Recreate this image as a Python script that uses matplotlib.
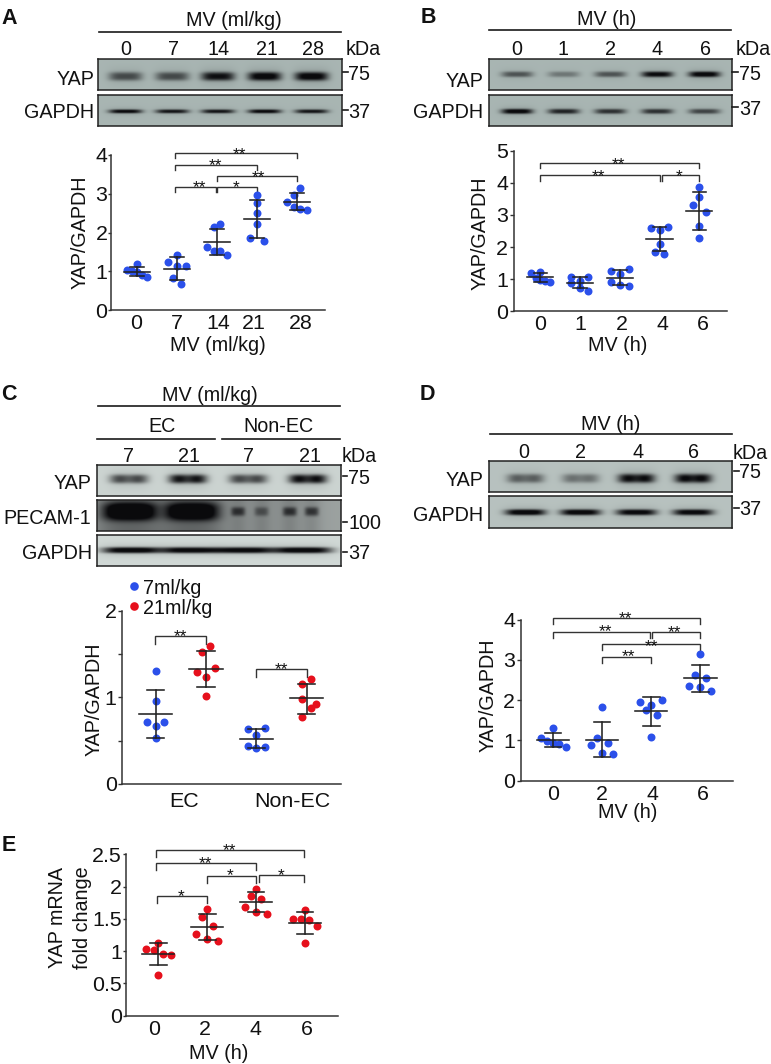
import numpy as np
import matplotlib
matplotlib.use("Agg")
import matplotlib.pyplot as plt

plt.rcParams['font.family'] = ['Liberation Sans', 'DejaVu Sans']
W, H = 771, 1064
BLUE = '#2B50EA'
RED = '#E6101C'
INK = '#222222'
FS = 14.2

# ---------- data ----------
a_cats = ['0', '7', '14', '21', '28']
a_vals = [[1.03, 1.01, 1.18, 0.98, 0.90, 0.85],
          [1.24, 1.41, 1.14, 1.14, 0.83, 0.66],
          [2.14, 2.23, 1.63, 1.53, 1.53, 1.43],
          [2.97, 2.77, 2.50, 2.21, 1.87, 1.79],
          [3.16, 2.97, 2.79, 2.66, 2.60, 2.59]]
a_mean = [0.99, 1.07, 1.75, 2.35, 2.80]
a_low = [0.87, 0.78, 1.41, 1.87, 2.58]
a_high = [1.11, 1.36, 2.09, 2.83, 3.03]

b_cats = ['0', '1', '2', '4', '6']
b_vals = [[1.18, 1.23, 1.05, 0.98, 0.95, 0.91],
          [1.06, 0.95, 1.08, 0.87, 0.71, 0.64],
          [1.27, 1.32, 1.16, 0.92, 0.83, 0.80],
          [2.59, 2.53, 2.63, 2.10, 1.85, 1.77],
          [3.86, 3.57, 3.31, 3.10, 2.66, 2.28]]
b_mean = [1.06, 0.89, 1.05, 2.25, 3.13]
b_low = [0.91, 0.71, 0.82, 1.87, 2.54]
b_high = [1.18, 1.08, 1.28, 2.63, 3.70]

c_groups = ['EC', 'Non-EC']
c_vals = [[1.31, 0.96, 0.71, 0.71, 0.67, 0.53],
          [1.60, 1.52, 1.29, 1.34, 1.23, 1.01],
          [0.63, 0.64, 0.56, 0.44, 0.43, 0.41],
          [1.21, 1.15, 0.98, 0.92, 0.88, 0.77]]
c_mean = [0.81, 1.33, 0.52, 0.99]
c_low = [0.53, 1.12, 0.41, 0.81]
c_high = [1.09, 1.54, 0.63, 1.16]

d_cats = ['0', '2', '4', '6']
d_vals = [[1.31, 1.06, 0.99, 0.94, 0.92, 0.84],
          [1.84, 1.07, 0.94, 0.88, 0.70, 0.67],
          [1.96, 2.00, 1.88, 1.76, 1.63, 1.08],
          [3.14, 2.62, 2.56, 2.35, 2.32, 2.24]]
d_mean = [1.02, 1.02, 1.72, 2.54]
d_low = [0.84, 0.59, 1.37, 2.21]
d_high = [1.18, 1.45, 2.08, 2.87]

e_cats = ['0', '2', '4', '6']
e_vals = [[1.13, 1.04, 1.02, 0.96, 0.94, 0.625],
          [1.65, 1.53, 1.39, 1.27, 1.19, 1.15],
          [1.97, 1.86, 1.81, 1.69, 1.60, 1.58],
          [1.63, 1.50, 1.50, 1.48, 1.39, 1.13]]
e_mean = [0.96, 1.37, 1.76, 1.44]
e_low = [0.785, 1.17, 1.60, 1.27]
e_high = [1.13, 1.57, 1.91, 1.61]

# band intensities per lane
a_yap_bands = [0.55, 0.55, 0.85, 0.95, 0.95]
a_gapdh_bands = [0.90, 0.82, 0.82, 0.90, 0.82]
b_yap_bands = [0.50, 0.32, 0.50, 0.88, 0.95]
b_gapdh_bands = [0.95, 0.75, 0.68, 0.68, 0.58]
c_yap_bands = [0.66, 0.92, 0.66, 0.95]
c_gapdh_bands = [0.95, 0.92, 0.92, 0.95]
c_pecam_bands = [0.78, 0.76, 0.42, 0.28, 0.44, 0.44]
d_yap_bands = [0.52, 0.42, 0.95, 0.97]
d_gapdh_bands = [0.97, 0.95, 0.92, 0.92]

# ---------- layout helpers ----------
fig = plt.figure(figsize=(W / 100, H / 100), dpi=100, facecolor='white')


def T(x, y, s, ha='center', size=FS, **kw):
    fig.text(x / W, 1 - y / H, s, ha=ha, va='center_baseline', fontsize=size, color='#111111', **kw)


def VT(x, y, s):
    fig.text(x / W, 1 - y / H, s, rotation=90, ha='center', va='center', fontsize=FS, color='#111111')


def L(x0, x1, y, lw=1.2):
    fig.add_artist(plt.Line2D([x0 / W, x1 / W], [1 - y / H, 1 - y / H], color='#1a1a1a', lw=lw))


def blot(box, lanes, band_y, vals, hw, sig, bg=(0.66, 0.71, 0.70), dark=(0.04, 0.04, 0.05), dip=0.0, extra=None):
    x0, x1, y0, y1 = box
    ax = fig.add_axes([x0 / W, 1 - y1 / H, (x1 - x0) / W, (y1 - y0) / H])
    xs = np.linspace(x0, x1, int(x1 - x0) * 2)
    ys = np.linspace(y0, y1, int(y1 - y0) * 2)
    X, Y = np.meshgrid(xs, ys)
    d = np.zeros_like(X)
    for lx, v in zip(lanes, vals):
        lobes = 1 - dip * np.exp(-((X - lx) / (hw * 0.4)) ** 2)
        prof = np.exp(-np.abs((X - lx) / hw) ** 4) * np.exp(-np.abs((Y - band_y) / sig) ** 3) * lobes
        halo = 0.16 * np.exp(-np.abs((X - lx) / (hw * 1.1)) ** 4) * np.exp(-((Y - band_y) / (sig * 2.0)) ** 2)
        d += v * (prof + halo)
    if extra is not None:
        d += extra(X, Y)
    d = np.clip(d, 0, 1)[..., None]
    img = np.array(bg)[None, None, :] * (1 - d) + np.array(dark)[None, None, :] * d
    ax.imshow(img, extent=[x0, x1, y1, y0], aspect='auto', interpolation='bilinear')
    ax.set_xticks([]); ax.set_yticks([])
    for s in ax.spines.values():
        s.set_linewidth(1.1); s.set_color('#222222')
    return ax


def plot_panel(left, right, y0, ytop, ymax, c0, step, yticks, yticklabels, vals, offs, mean, low, high,
               colors, tick_pos, tick_labels, label_pad=3, fs=FS + 1.2, ytick_len=3.0, ytick_pad=1.0):
    ax = fig.add_axes([left / W, 1 - y0 / H, (right - left) / W, (y0 - ytop) / H])
    ax.set_xlim((left - c0) / step, (right - c0) / step)
    ax.set_ylim(0, ymax)
    ax.patch.set_alpha(0)
    for s in ('top', 'right'):
        ax.spines[s].set_visible(False)
    for s in ('left', 'bottom'):
        ax.spines[s].set_color('#333333'); ax.spines[s].set_linewidth(1.1)
    ax.set_yticks(yticks); ax.set_yticklabels(yticklabels, fontsize=fs, color='#111111')
    ax.set_xticks(tick_pos); ax.set_xticklabels(tick_labels, fontsize=fs, color='#111111')
    ax.tick_params(axis='x', length=0, pad=label_pad)
    ax.tick_params(axis='y', length=ytick_len, width=1.0, pad=ytick_pad, color='#333333')
    for i in range(len(vals)):
        ax.scatter(i + np.array(offs[i]), vals[i], s=33, color=colors[i], linewidths=0, zorder=2, clip_on=False)
        ax.plot([i - .33, i + .33], [mean[i]] * 2, color=INK, lw=1.15, zorder=3)
        ax.plot([i, i], [low[i], high[i]], color=INK, lw=1.15, zorder=3)
        for e in (low[i], high[i]):
            ax.plot([i - .17, i + .17], [e, e], color=INK, lw=1.15, zorder=3)
    return ax


def brackets(ax, items, drop):
    for x0, x1, y, sx, sy, lab in items:
        ax.plot([x0, x0, x1, x1], [y - drop, y, y, y - drop], color='#333333', lw=1.0,
                clip_on=False, solid_joinstyle='miter', zorder=1)
        ax.annotate(lab, xy=(sx, sy), xytext=(0, -7), textcoords='offset points', ha='center',
                    va='baseline', fontsize=12.5, color='#111111', annotation_clip=False)


# ---------- Panel A ----------
T(1, 15.7, 'A', ha='left', size=15.5, fontweight='bold')
T(234, 19, 'MV (ml/kg)')
L(99.3, 341, 31.7)
for x, s in zip([125.7, 173.3, 218.3, 266.7, 313.3], a_cats):
    T(x, 47.7, s)
T(362.7, 47.7, 'kDa')
alane = [125.7, 172.5, 218.3, 265, 312]
blot((98.3, 342.3, 58.7, 90), alane, 76.7, a_yap_bands, 16.5, 4.2)
blot((98.3, 342.3, 94.7, 126), alane, 111.7, a_gapdh_bands, 16.5, 1.9)
T(94, 77.7, 'YAP', ha='right'); T(94, 110.3, 'GAPDH', ha='right')
L(343.3, 348, 72.3); T(348, 72.3, '75', ha='left')
L(343.3, 348, 110); T(348, 110, '37', ha='left')
a_offs = [[-.25, -.125, 0, 0, .13, .26], [-.225, 0, 0, .225, -.11, .11], [-.07, .07, -.25, -.07, .07, .24],
          [0, 0, 0, 0, -.175, .17], [.08, -.08, -.25, -.08, .08, .25]]
ax = plot_panel(110.7, 325, 310, 155, 4, 137, 40, range(5), list('01234'), a_vals, a_offs, a_mean, a_low, a_high,
                [BLUE] * 5, np.arange(5) + [-.03, 0, .03, -.08, .1], a_cats, ytick_len=2.0, ytick_pad=0.3)
brackets(ax, [(.95, 4, 4.05, 2.57, 4.155, '**'), (.95, 3, 3.75, 1.97, 3.85, '**'), (2, 4, 3.45, 3.03, 3.54, '**'),
              (.95, 1.97, 3.17, 1.55, 3.30, '**'), (2, 3, 3.17, 2.47, 3.30, '*')], .13)
T(218, 344, 'MV (ml/kg)')
VT(80, 232.5, 'YAP/GAPDH')

# ---------- Panel B ----------
T(421, 15, 'B', ha='left', size=15.5, fontweight='bold')
T(606.7, 17.7, 'MV (h)')
L(489.3, 730.7, 30)
for x, s in zip([516.3, 563, 610.3, 657.3, 705.3], b_cats):
    T(x, 47.7, s)
T(752.7, 47.7, 'kDa')
blane = [516.7, 563.3, 610, 657, 704.3]
blot((488.7, 731.7, 59, 90), blane, 74.3, b_yap_bands, 15.5, 2.8)
blot((488.7, 731.7, 94.7, 126), blane, 111.7, b_gapdh_bands, 15.5, 2.4)
T(483.3, 79.3, 'YAP', ha='right'); T(483.3, 111, 'GAPDH', ha='right')
L(732, 738, 72); T(739, 72, '75', ha='left')
L(732, 738, 107.3); T(739, 107.3, '37', ha='left')
b_offs = [[-.235, 0, -.12, 0, .125, .24], [-.225, 0, .21, -.225, 0, .21], [-.22, .225, 0, -.22, 0, .225],
          [-.225, 0, .22, 0, -.12, .11], [0, 0, -.17, .17, 0, 0]]
ax = plot_panel(513.7, 726.7, 311.3, 150.7, 5, 540.3, 39.75, range(6), list('012345'), b_vals, b_offs, b_mean, b_low, b_high,
                [BLUE] * 5, np.arange(5) + [0, 0, .04, .08, .1], b_cats)
brackets(ax, [(0, 4, 4.63, 1.96, 4.74, '**'), (0, 3.0, 4.24, 1.46, 4.34, '**'), (3.05, 4, 4.24, 3.49, 4.34, '*')], .18)
T(618, 344, 'MV (h)')
VT(480, 233, 'YAP/GAPDH')

# ---------- Panel C ----------
T(1, 391.7, 'C', ha='left', size=15.5, fontweight='bold')
T(210, 393.3, 'MV (ml/kg)')
L(98.3, 340, 405.7)
T(161.7, 425, 'EC'); T(278.3, 425, 'Non-EC')
L(96.7, 215, 439.3); L(221.7, 340, 439.3)
for x, s in zip([128.3, 189.3, 248.3, 310], ['7', '21', '7', '21']):
    T(x, 454, s)
T(359, 454, 'kDa')
blot((97.3, 341, 464.7, 496), [129, 188, 248.3, 308], 479.3, c_yap_bands, 18.5, 4.4, bg=(0.80, 0.83, 0.82), dip=0.25)


def pecam_field(X, Y):
    d = 0.33 + 0.14 * np.exp(-((X - 130) / 32) ** 4) + 0.14 * np.exp(-((X - 192) / 32) ** 4)
    d -= 0.08 * np.exp(-((X - 340) / 35) ** 2)
    for lx, v, hw, sig in zip([130, 192, 238.3, 261.7, 290, 312], c_pecam_bands,
                              [27, 27, 7, 7, 7, 7], [9, 9, 4.5, 4.5, 4.5, 4.5]):
        d += v * np.exp(-np.abs((X - lx) / hw) ** 4) * np.exp(-np.abs((Y - 512) / sig) ** 3)
        d += 0.08 * np.exp(-((X - lx) / (hw + 2)) ** 2)
    return d


blot((97.3, 341, 499.7, 531.3), [], 513, [], 1, 1, bg=(0.80, 0.83, 0.82), extra=pecam_field)
blot((97.3, 341, 534.7, 566.3), [131.7, 190, 245, 303], 550.7, c_gapdh_bands, 29, 3.0, bg=(0.82, 0.85, 0.84))
T(91.7, 481.7, 'YAP', ha='right'); T(90.7, 516.7, 'PECAM-1', ha='right'); T(91.7, 551.7, 'GAPDH', ha='right')
L(343, 347, 476); T(348.3, 476, '75', ha='left')
L(343, 347, 521.7); T(348.3, 521.7, '100', ha='left')
L(343, 347, 551.7); T(348.3, 551.7, '37', ha='left')
c_offs = [[0, 0, -.17, .17, 0, 0], [.085, -.085, -.17, .17, 0, 0], [-.17, .18, 0, -.17, .18, 0], [.09, -.09, -.09, .18, .08, -.09]]
ax = plot_panel(122.3, 341, 783.7, 611, 2, 155.7, 50.33, [0, .5, 1, 1.5, 2], ['0', '', '1', '', '2'],
                c_vals, c_offs, c_mean, c_low, c_high, [BLUE, RED, BLUE, RED], [.56, 2.72], c_groups, label_pad=6)
brackets(ax, [(-.01, 1, 1.71, .49, 1.76, '**'), (1.99, 3, 1.33, 2.49, 1.38, '**')], .095)
VT(94.3, 699, 'YAP/GAPDH')
for yy, col, lab, tx in [(586, BLUE, '7ml/kg', 143.3), (606.3, RED, '21ml/kg', 142.7)]:
    fig.add_artist(plt.Line2D([133.7 / W], [1 - yy / H], marker='o', ms=6.2, mfc=col, mec='none', ls=''))
    T(tx, yy, lab, ha='left')

# ---------- Panel D ----------
T(420, 391.5, 'D', ha='left', size=15.5, fontweight='bold')
T(611, 422.7, 'MV (h)')
L(490, 731.7, 434)
for x, s in zip([524, 581, 637.7, 693.3], d_cats):
    T(x, 451, s)
T(750, 451.7, 'kDa')
dlane = [525, 580, 636, 692.7]
blot((488.7, 732.3, 460.7, 492), dlane, 478.7, d_yap_bands, 18, 4.4, bg=(0.72, 0.76, 0.75), dip=0.2)
blot((488.7, 732.3, 496.3, 527.7), dlane, 512.3, d_gapdh_bands, 20, 2.9, bg=(0.72, 0.76, 0.75))
T(483, 478, 'YAP', ha='right'); T(483, 513, 'GAPDH', ha='right')
L(733.5, 738.5, 471); T(739.3, 470.7, '75', ha='left')
L(733.5, 738.5, 507.7); T(739.3, 507.7, '37', ha='left')
d_offs = [[0, -.25, -.12, 0, .13, .26], [0, -.11, .11, -.22, 0, .22], [-.22, .22, 0, -.11, .11, 0], [0, -.11, .11, -.22, 0, .22]]
ax = plot_panel(520.7, 732.7, 780.7, 619.7, 4, 553, 49.1, range(5), list('01234'), d_vals, d_offs, d_mean, d_low, d_high,
                [BLUE] * 4, np.arange(4) + [0, 0, .03, .05], d_cats)
brackets(ax, [(0, 3, 4.04, 1.47, 4.16, '**'), (0, 1.98, 3.70, 1.06, 3.83, '**'), (2.01, 3, 3.70, 2.47, 3.82, '**'),
              (1, 3, 3.39, 2.01, 3.47, '**'), (1, 2, 3.08, 1.53, 3.2, '**')], .15)
T(627.7, 810, 'MV (h)')
VT(488.3, 695, 'YAP/GAPDH')

# ---------- Panel E ----------
T(2, 842.7, 'E', ha='left', size=15.5, fontweight='bold')
e_offs = [[0, -.25, -.08, .09, .25, 0], [0, -.11, .12, -.22, 0, .22], [0, -.11, .11, -.22, 0, .22], [0, -.25, -.08, .08, .25, 0]]
ax = plot_panel(126, 338, 1015.7, 854.3, 2.5, 158.3, 48.9, [0, .5, 1, 1.5, 2, 2.5], ['0', '0.5', '1', '1.5', '2', '2.5'],
                e_vals, e_offs, e_mean, e_low, e_high, [RED] * 4, np.arange(4) + [-.09, -.05, -.01, .04], e_cats,
                ytick_len=2.0, ytick_pad=1.0)
brackets(ax, [(-.05, 2.98, 2.57, 1.46, 2.645, '**'), (-.05, 1.99, 2.37, .97, 2.44, '**'), (1, 1.99, 2.17, 1.47, 2.25, '*'),
              (2.05, 2.98, 2.18, 2.52, 2.25, '*'), (-.02, 1, 1.85, .46, 1.92, '*')], .11)
T(219, 1051.7, 'MV (h)')
VT(57.3, 918, 'YAP mRNA')
VT(82.7, 918, 'fold change')

fig.savefig('out.png', dpi=100)
